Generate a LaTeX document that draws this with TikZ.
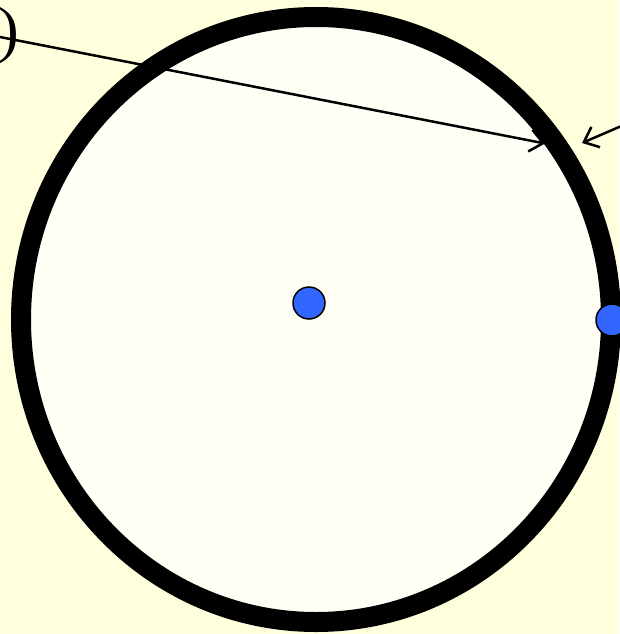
\documentclass[tikz,border=0pt]{standalone}
\usepackage{fontspec}
\setmainfont{Liberation Serif}
\usetikzlibrary{arrows.meta}
\definecolor{bgyellow}{RGB}{255,255,221}
\definecolor{diskfill}{RGB}{255,255,245}
\definecolor{dotblue}{RGB}{51,102,255}
\begin{document}
\begin{tikzpicture}[x=1pt,y=-1pt,
  ring/.style={draw=black,line width=20pt,fill=diskfill},
  dot/.style={circle,draw=black,line width=1.5pt,fill=dotblue,minimum size=32pt,inner sep=0pt},
  pointer/.style={draw=black,line width=2.5pt,-{Straight Barb[length=13pt,width=22pt,line width=2.5pt]}},
  lbl/.style={inner sep=0pt,font=\fontsize{62}{66}\selectfont}]
\fill[bgyellow] (0,0) rectangle (619,634);
\useasboundingbox (0,0) rectangle (619,634);
\path[ring] (316,319.5) ellipse [x radius=295, y radius=302.5];
\node[dot] (c) at (309,303) {};
\node[dot] (r) at (612,320) {};
\node[lbl,anchor=base east] (t) at (19,51) {)};
\coordinate (s1) at (-40,29.2);
\coordinate (e1) at (545,143.5);
\coordinate (s2) at (640,118);
\coordinate (e2) at (582,143);
\draw[pointer] (s1) -- (e1);
\draw[pointer] (s2) -- (e2);
\end{tikzpicture}
\end{document}
